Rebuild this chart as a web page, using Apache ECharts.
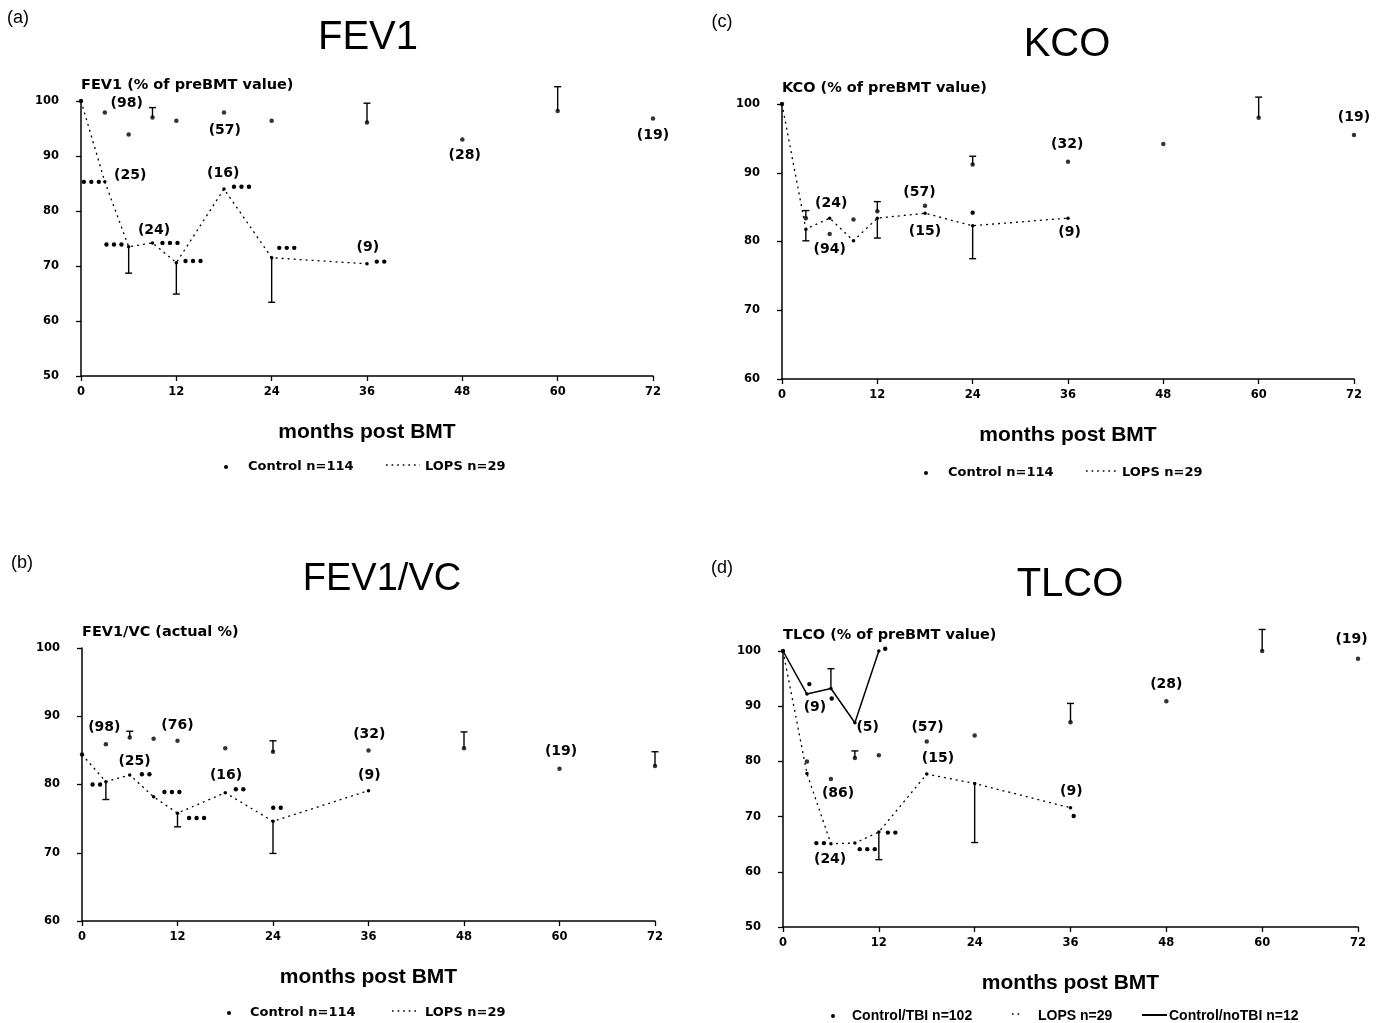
<!DOCTYPE html>
<html>
<head>
<meta charset="utf-8">
<script src="https://cdn.jsdelivr.net/npm/echarts@6/dist/echarts.min.js"></script>
<style>
html,body{margin:0;padding:0;background:#fff;}
#chart{width:1385px;height:1023px;}
</style>
</head>
<body>
<div id="chart"></div>
<script>
// ---------- data ----------
const xTicks = [0, 12, 24, 36, 48, 60, 72];

// (a) FEV1 (% of preBMT value)
const fevControl = [[0,100],[3,97.9],[6,93.9],[9,97.0],[12,96.4],[18,97.9],[24,96.4],[36,96.1],[48,93.0],[60,98.2],[72,96.8]];
const fevControlErr = [[9,97.0,98.8],[36,96.1,99.6],[60,98.2,102.6]];
const fevLops = [[0,100],[3,85.3],[6,73.5],[9,74.2],[12,70.6],[18,84.0],[24,71.5],[36,70.4]];
const fevLopsErr = [[6,73.5,68.7],[12,70.6,64.9],[24,71.5,63.4]];
const fevStars = [[1.3,85.3,3],[4.15,73.9,3],[11.2,74.2,3],[14.1,70.9,3],[20.2,84.4,3],[25.9,73.3,3],[37.7,70.8,2]];
const fevCounts = [[5.75,99.5,'(98)'],[18.1,94.7,'(57)'],[48.3,90.2,'(28)'],[72,93.8,'(19)'],[6.2,86.4,'(25)'],[9.2,76.5,'(24)'],[17.9,86.9,'(16)'],[36.1,73.3,'(9)']];

// (b) FEV1/VC (actual %)
const ratioControl = [[0,84.4],[3,85.9],[6,86.9],[9,86.7],[12,86.4],[18,85.3],[24,84.8],[36,85.0],[48,85.3],[60,82.3],[72,82.7]];
const ratioControlErr = [[6,86.9,87.8],[24,84.8,86.4],[48,85.3,87.7],[72,82.7,84.8]];
const ratioLops = [[0,84.4],[3,80.4],[6,81.4],[9,78.2],[12,75.8],[18,78.8],[24,74.6],[36,79.1]];
const ratioLopsErr = [[3,80.4,77.8],[12,75.8,73.8],[24,74.6,69.9]];
const ratioStars = [[1.8,80.0,2],[8.0,81.5,2],[11.3,78.9,3],[14.4,75.1,3],[19.8,79.3,2],[24.5,76.6,2]];
const ratioCounts = [[2.8,88.4,'(98)'],[12.0,88.6,'(76)'],[6.6,83.4,'(25)'],[18.1,81.3,'(16)'],[36.1,87.3,'(32)'],[36.1,81.3,'(9)'],[60.2,84.9,'(19)']];

// (c) KCO (% of preBMT value)
const kcoControl = [[0,100],[3,83.4],[6,81.1],[9,83.2],[12,84.4],[18,85.2],[24,91.2],[36,91.6],[48,94.2],[60,98.0],[72,95.5]];
const kcoControlErr = [[3,83.4,84.5],[12,84.4,85.8],[24,91.2,92.4],[60,98.0,101.0]];
const kcoLops = [[0,100],[3,81.8],[6,83.4],[9,80.1],[12,83.4],[18,84.1],[24,82.3],[36,83.4]];
const kcoLopsErr = [[3,81.8,80.1],[12,83.4,80.5],[24,82.3,77.5]];
const kcoStars = [[24,84.2,1]];
const kcoCounts = [[6.2,85.6,'(24)'],[6.0,78.8,'(94)'],[17.3,87.2,'(57)'],[18.0,81.5,'(15)'],[35.9,94.1,'(32)'],[36.2,81.4,'(9)'],[72.0,98.0,'(19)']];

// (d) TLCO (% of preBMT value)
const tlcoControl = [[0,100],[3,80.0],[6,76.8],[9,80.6],[12,81.1],[18,83.6],[24,84.7],[36,87.1],[48,90.9],[60,100],[72,98.6]];
const tlcoControlErr = [[9,80.6,81.9],[36,87.1,90.5],[60,100,103.9]];
const tlcoLops = [[0,100],[3,77.8],[6,65.1],[9,65.2],[12,67.2],[18,77.7],[24,76.0],[36,71.6]];
const tlcoLopsErr = [[12,67.2,62.2],[24,76.0,65.3]];
const tlcoNoTbi = [[0,100],[3,92.2],[6,93.2],[9,87.0],[12,100]];
const tlcoNoTbiErr = [[6,93.2,96.8]];
const tlcoStars = [[3.3,94.0,1],[6.1,91.4,1],[12.8,100.4,1],[4.65,65.2,2],[10.55,64.1,3],[13.6,67.1,2],[36.4,70.1,1]];
const tlcoCounts = [[4.0,89.7,'(9)'],[10.6,86.2,'(5)'],[18.1,86.2,'(57)'],[19.4,80.5,'(15)'],[6.9,74.3,'(86)'],[5.9,62.3,'(24)'],[36.1,74.6,'(9)'],[48.0,93.9,'(28)'],[71.2,102.1,'(19)']];

// ---------- styling helpers ----------
const SANS = "'Liberation Sans', Arial, sans-serif";
const DJ = "'DejaVu Sans', sans-serif";
const INK = '#000';

function errRender(params, api) {
  const x = api.value(0), v = api.value(1), e = api.value(2);
  const p1 = api.coord([x, v]), p2 = api.coord([x, e]);
  const w = 3.5;
  return { type: 'group', children: [
    { type: 'line', shape: { x1: p1[0], y1: p1[1], x2: p2[0], y2: p2[1] }, style: { stroke: INK, lineWidth: 1.4 } },
    { type: 'line', shape: { x1: p2[0]-w, y1: p2[1], x2: p2[0]+w, y2: p2[1] }, style: { stroke: INK, lineWidth: 1.4 } }
  ]};
}
function starRender(params, api) {
  const p = api.coord([api.value(0), api.value(1)]);
  const n = api.value(2), gap = 7.5;
  const children = [];
  for (let i = 0; i < n; i++) {
    children.push({ type: 'circle', shape: { cx: p[0] + (i - (n-1)/2) * gap, cy: p[1], r: 2.2 }, style: { fill: INK } });
  }
  return { type: 'group', children };
}
function textRender(arr) {
  return function (params, api) {
    const p = api.coord([api.value(0), api.value(1)]);
    return { type: 'text', x: p[0], y: p[1], style: {
      text: arr[params.dataIndex][2], font: 'bold 14px ' + DJ, fill: INK,
      textAlign: 'center', textVerticalAlign: 'middle', align: 'center', verticalAlign: 'middle' } };
  };
}

function xAxisCfg(gi) {
  return { gridIndex: gi, type: 'value', min: 0, max: 72, interval: 12,
    name: 'months post BMT', nameLocation: 'middle', nameGap: 46,
    nameTextStyle: { color: INK, fontSize: 21, fontWeight: 'bold', fontFamily: SANS },
    axisLine: { show: true, onZero: false, lineStyle: { color: INK, width: 1.5 } },
    axisTick: { show: true, length: 5, lineStyle: { color: INK, width: 1.3 } },
    axisLabel: { color: INK, fontSize: 11.5, fontWeight: 'bold', fontFamily: DJ, margin: 10 },
    splitLine: { show: false } };
}
function yAxisCfg(gi, min, name) {
  return { gridIndex: gi, type: 'value', min: min, max: 100, interval: 10,
    name: name, nameLocation: 'end', nameGap: 8,
    nameTextStyle: { color: INK, fontSize: 14.5, fontWeight: 'bold', fontFamily: DJ, align: 'left', verticalAlign: 'bottom' },
    axisLine: { show: true, onZero: false, lineStyle: { color: INK, width: 1.5 } },
    axisTick: { show: true, length: 5, lineStyle: { color: INK, width: 1.3 } },
    axisLabel: { color: INK, fontSize: 11.5, fontWeight: 'bold', fontFamily: DJ, margin: 22 },
    splitLine: { show: false } };
}

function panelSeries(gi, control, controlErr, lops, lopsErr, stars, counts, controlName) {
  const s = [];
  s.push({ name: controlName, type: 'scatter', xAxisIndex: gi, yAxisIndex: gi, data: control,
    symbol: 'circle', symbolSize: 4.5, itemStyle: { color: INK }, clip: false, z: 5 });
  s.push({ name: 'LOPS n=29', type: 'line', xAxisIndex: gi, yAxisIndex: gi, data: lops,
    symbol: 'circle', symbolSize: 3.5, showSymbol: true, itemStyle: { color: INK },
    lineStyle: { color: INK, width: 1.3, type: [2, 4] }, clip: false, z: 4 });
  s.push({ type: 'custom', xAxisIndex: gi, yAxisIndex: gi, data: controlErr, renderItem: errRender, encode: { x: 0, y: [1, 2] }, clip: false, z: 3 });
  s.push({ type: 'custom', xAxisIndex: gi, yAxisIndex: gi, data: lopsErr, renderItem: errRender, encode: { x: 0, y: [1, 2] }, clip: false, z: 3 });
  s.push({ type: 'custom', xAxisIndex: gi, yAxisIndex: gi, data: stars, renderItem: starRender, encode: { x: 0, y: 1 }, clip: false, z: 6 });
  s.push({ type: 'custom', xAxisIndex: gi, yAxisIndex: gi, data: counts.map(d => [d[0], d[1]]), renderItem: textRender(counts), encode: { x: 0, y: 1 }, clip: false, z: 7 });
  return s;
}

const series = [].concat(
  panelSeries(0, fevControl, fevControlErr, fevLops, fevLopsErr, fevStars, fevCounts, 'Control n=114'),
  panelSeries(1, ratioControl, ratioControlErr, ratioLops, ratioLopsErr, ratioStars, ratioCounts, 'Control n=114'),
  panelSeries(2, kcoControl, kcoControlErr, kcoLops, kcoLopsErr, kcoStars, kcoCounts, 'Control n=114'),
  panelSeries(3, tlcoControl, tlcoControlErr, tlcoLops, tlcoLopsErr, tlcoStars, tlcoCounts, 'Control/TBI n=102')
);
series.push({ name: 'Control/noTBI n=12', type: 'line', xAxisIndex: 3, yAxisIndex: 3, data: tlcoNoTbi,
  symbol: 'circle', symbolSize: 3.5, showSymbol: true, itemStyle: { color: INK },
  lineStyle: { color: INK, width: 1.5, type: 'solid' }, clip: false, z: 4 });
series.push({ type: 'custom', xAxisIndex: 3, yAxisIndex: 3, data: tlcoNoTbiErr, renderItem: errRender, encode: { x: 0, y: [1, 2] }, clip: false, z: 3 });

// ---------- static text / legends ----------
function txt(x, y, text, font, align) {
  return { type: 'text', x: x, y: y, style: { text: text, font: font, fill: INK,
    textAlign: align || 'left', textVerticalAlign: 'middle', align: align || 'left', verticalAlign: 'middle' } };
}
function dot(x, y) { return { type: 'circle', shape: { cx: x, cy: y, r: 2 }, style: { fill: INK } }; }
function dline(x1, x2, y, dash) {
  return { type: 'line', shape: { x1: x1, y1: y, x2: x2, y2: y }, style: { stroke: INK, lineWidth: dash ? 1.6 : 2, lineDash: dash ? [1.6, 4] : null } };
}
const LF = 'bold 13px ' + DJ;
const LFD = 'bold 14px ' + SANS;
const TF = '40px ' + SANS;
const PF = '18px ' + SANS;
const graphics = [
  txt(18, 18, '(a)', PF, 'center'), txt(368, 38, 'FEV1', TF, 'center'),
  txt(22, 563, '(b)', PF, 'center'), txt(382, 580, 'FEV1/VC', '38px ' + SANS, 'center'),
  txt(722, 22, '(c)', PF, 'center'), txt(1067, 45, 'KCO', TF, 'center'),
  txt(722, 568, '(d)', PF, 'center'), txt(1070, 585, 'TLCO', TF, 'center'),
  // legend a
  dot(226, 467), txt(248, 467, 'Control n=114', LF), dline(386, 420, 465, true), txt(425, 467, 'LOPS n=29', LF),
  // legend b
  dot(229, 1013), txt(250, 1013, 'Control n=114', LF), dline(392, 420, 1011, true), txt(425, 1013, 'LOPS n=29', LF),
  // legend c
  dot(926, 473), txt(948, 473, 'Control n=114', LF), dline(1086, 1118, 471, true), txt(1122, 473, 'LOPS n=29', LF),
  // legend d
  dot(833, 1016), txt(852, 1016, 'Control/TBI n=102', LFD), dline(1012, 1022, 1014, true), txt(1038, 1016, 'LOPS n=29', LFD),
  dline(1142, 1167, 1015, false), txt(1169, 1016, 'Control/noTBI n=12', LFD)
];

const option = {
  backgroundColor: '#fff',
  animation: false,
  grid: [
    { left: 81, top: 101, width: 572, height: 275 },
    { left: 82, top: 648, width: 573, height: 273 },
    { left: 782, top: 104, width: 572, height: 275 },
    { left: 783, top: 651, width: 575, height: 276 }
  ],
  xAxis: [xAxisCfg(0), xAxisCfg(1), xAxisCfg(2), xAxisCfg(3)],
  yAxis: [
    yAxisCfg(0, 50, 'FEV1 (% of preBMT value)'),
    yAxisCfg(1, 60, 'FEV1/VC (actual %)'),
    yAxisCfg(2, 60, 'KCO (% of preBMT value)'),
    yAxisCfg(3, 50, 'TLCO (% of preBMT value)')
  ],
  series: series,
  graphic: graphics
};
const chart = echarts.init(document.getElementById('chart'), null, { renderer: 'canvas' });
chart.setOption(option);
</script>
</body>
</html>
